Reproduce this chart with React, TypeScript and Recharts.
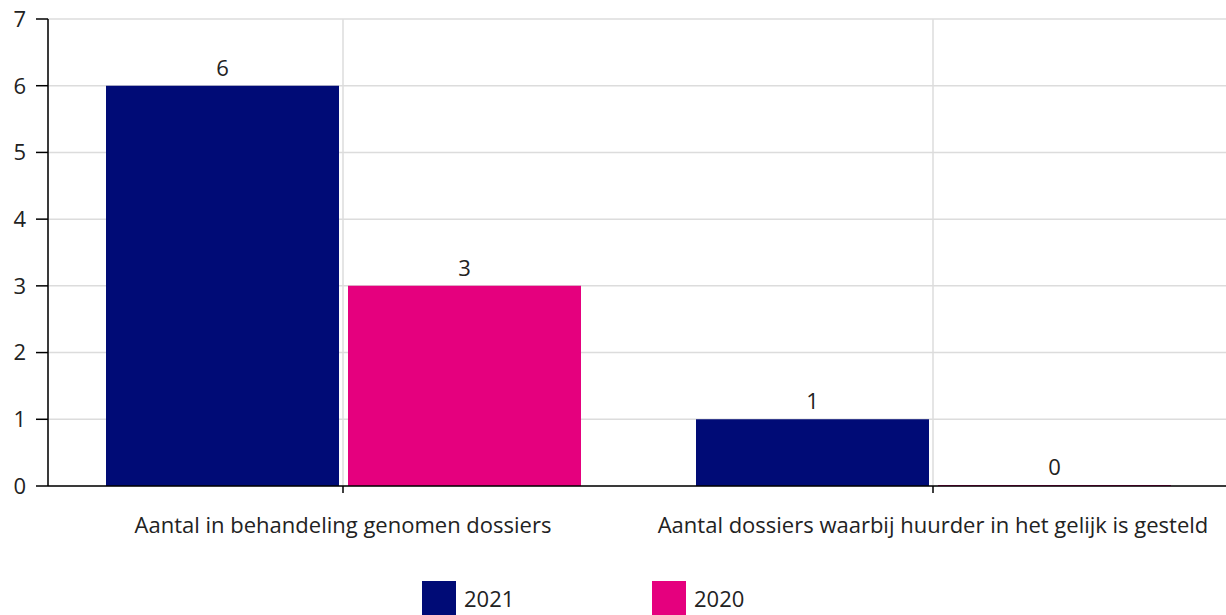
import React from 'react';
import {BarChart, Bar, XAxis, YAxis, CartesianGrid, Legend, LabelList} from 'recharts';

const categories = [
  'Aantal in behandeling genomen dossiers',
  'Aantal dossiers waarbij huurder in het gelijk is gesteld',
];
const values2021 = [6, 1];
const values2020 = [3, 0];
const yTicks = [0, 1, 2, 3, 4, 5, 6, 7];

const series = [
  {key: 'y2021', name: '2021', color: '#000b76'},
  {key: 'y2020', name: '2020', color: '#e5007e'},
];

const data = categories.map((category, i) => ({
  category,
  y2021: values2021[i],
  y2020: values2020[i],
}));

const FONT = '"Open Sans", sans-serif';
const FS = 22;

const LegendContent = () => (
  <div style={{display: 'flex', paddingLeft: 422, fontFamily: FONT, fontSize: FS, color: '#222'}}>
    {series.map(s => (
      <div key={s.key} style={{display: 'flex', alignItems: 'center', width: 230}}>
        <span style={{display: 'inline-block', width: 34, height: 34, background: s.color, marginRight: 8}} />
        <span>{s.name}</span>
      </div>
    ))}
  </div>
);

const App: React.FC = () => {
  return (
    <div style={{position: 'fixed', left: 0, top: 0, width: 1226, height: 615, overflow: 'hidden', background: '#fff'}}>
      <BarChart
        width={1228}
        height={615}
        data={data}
        margin={{top: 19, right: 0, left: 0, bottom: 0}}
        barCategoryGap={58}
        barGap={9}
      >
        <CartesianGrid stroke="#dcdcdc" strokeWidth={1.5} />
        <XAxis
          dataKey="category"
          height={95}
          tickSize={7}
          tickMargin={24}
          axisLine={{stroke: '#000', strokeWidth: 1.5}}
          tickLine={{stroke: '#000', strokeWidth: 1.5}}
          tick={{fill: '#222', fontSize: FS, fontFamily: FONT}}
          interval={0}
        />
        <YAxis
          width={48}
          domain={[0, 7]}
          ticks={yTicks}
          tickSize={12}
          tickMargin={10}
          axisLine={{stroke: '#000', strokeWidth: 1.5}}
          tickLine={{stroke: '#000', strokeWidth: 1.5}}
          tick={{fill: '#222', fontSize: FS, fontFamily: FONT}}
        />
        <Legend verticalAlign="bottom" content={<LegendContent />} />
        {series.map(s => (
          <Bar key={s.key} dataKey={s.key} name={s.name} fill={s.color} minPointSize={1} isAnimationActive={false}>
            <LabelList
              dataKey={s.key}
              position="top"
              offset={10}
              fill="#222"
              fontSize={FS}
              fontFamily={FONT}
            />
          </Bar>
        ))}
      </BarChart>
    </div>
  );
};

export default App;
